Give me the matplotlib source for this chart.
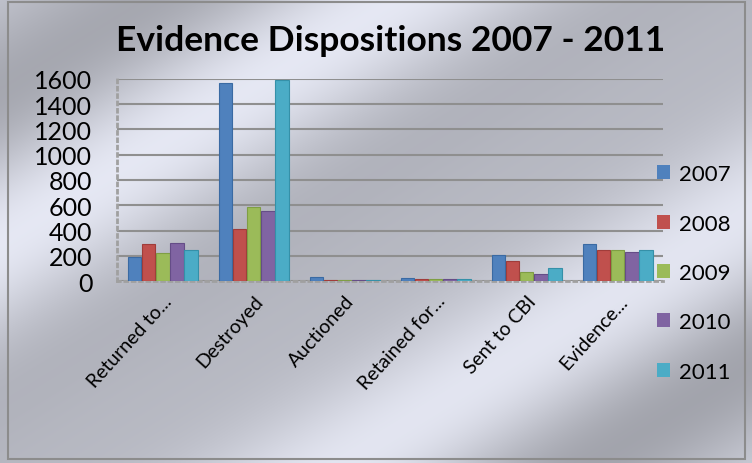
import numpy as np
import matplotlib
matplotlib.use("Agg")
import matplotlib.pyplot as plt
from matplotlib.patches import Patch, Rectangle

# DATA
categories = ["Returned to...", "Destroyed", "Auctioned", "Retained for...", "Sent to CBI", "Evidence..."]
years = ["2007", "2008", "2009", "2010", "2011"]
v2007 = [190, 1570, 30, 25, 210, 290]
v2008 = [290, 410, 10, 15, 160, 250]
v2009 = [220, 590, 10, 20, 70, 250]
v2010 = [300, 555, 10, 20, 60, 230]
v2011 = [250, 1590, 10, 20, 100, 250]
series = [v2007, v2008, v2009, v2010, v2011]
colors = ["#4F81BD", "#C0504D", "#9BBB59", "#8064A2", "#4BACC6"]
edges = ["#3a6aa3", "#a03c3a", "#7f9e44", "#654d87", "#3590a8"]
yticks = list(range(0, 1601, 200))

plt.rcParams['font.family'] = ['Lato', 'DejaVu Sans']

fig = plt.figure(figsize=(7.52, 4.64), dpi=100)

# metallic background
bg = fig.add_axes([0, 0, 1, 1], zorder=-10)
H, W = 200, 320
rows, cols = np.mgrid[0:H, 0:W]
u = cols / W + rows / H
shade = (0.79
         + 0.10 * np.cos((u - 0.55) * 2 * np.pi / 0.85)
         + 0.04 * np.cos((u - 1.0) * 2 * np.pi / 0.5))
shade = np.clip(shade, 0, 1)
img = np.dstack([shade * 0.97, shade * 0.98, shade * 1.03])
img = np.clip(img, 0, 1)
bg.imshow(img, aspect="auto", extent=[0, 1, 0, 1], interpolation="bilinear")
bg.set_xlim(0, 1)
bg.set_ylim(0, 1)
bg.axis("off")
bg.add_patch(Rectangle((0.011, 0.008), 0.98, 0.985, fill=False,
                       edgecolor="#8c8c8c", linewidth=1.5))

ax = fig.add_axes([0.156, 0.392, 0.726, 0.436])
ax.patch.set_alpha(0)

x = np.arange(len(categories))
bw = 0.155
for i, vals in enumerate(series):
    ax.bar(x + (i - 2) * bw, vals, width=bw * 0.95, color=colors[i],
           edgecolor=edges[i], linewidth=0.8, zorder=3)

ax.set_xlim(-0.5, len(categories) - 0.5)
ax.set_ylim(0, 1600)
ax.set_yticks(yticks)
ax.set_yticklabels([str(t) for t in yticks], fontsize=18)
ax.yaxis.grid(True, color="#8f8f8f", linewidth=1.5, zorder=0)
ax.set_axisbelow(True)
ax.tick_params(axis="y", length=0, pad=18)
ax.tick_params(axis="x", length=0, pad=2)
ax.set_xticks(x)
ax.set_xticklabels(categories, rotation=48, ha="right", rotation_mode="anchor",
                   fontsize=14)
for lab in ax.get_xticklabels():
    lab.set_y(-0.04)
for s in ["top", "right"]:
    ax.spines[s].set_visible(False)
ax.spines["left"].set_color("#a0a0a0")
ax.spines["left"].set_linestyle(":")
ax.spines["left"].set_linewidth(2)
ax.spines["bottom"].set_color("#a0a0a0")
ax.spines["bottom"].set_linestyle(":")
ax.spines["bottom"].set_linewidth(2)

fig.text(0.52, 0.912, "Evidence Dispositions 2007 - 2011", ha="center", va="center",
         fontsize=25.5, fontweight="bold")

handles = [Patch(facecolor=c, edgecolor="none") for c in colors]
fig.legend(handles, years, loc="upper left", bbox_to_anchor=(0.862, 0.663),
           frameon=False, fontsize=16, handlelength=0.6, handleheight=0.6,
           handletextpad=0.4, labelspacing=1.32, borderaxespad=0)

fig.savefig("out.png", dpi=100)
